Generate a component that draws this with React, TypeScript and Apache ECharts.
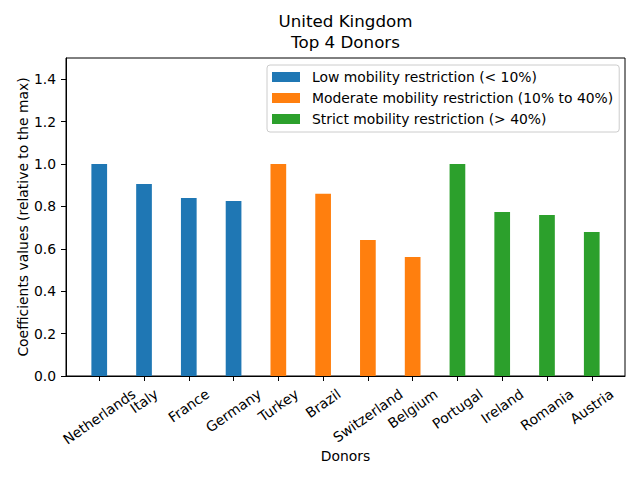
import React, { useEffect, useRef } from "react";
import * as echarts from "echarts";

const donors = [
  "Netherlands", "Italy", "France", "Germany",
  "Turkey", "Brazil", "Switzerland", "Belgium",
  "Portugal", "Ireland", "Romania", "Austria",
];
const lowValues = [1.0, 0.906, 0.84, 0.825];
const moderateValues = [1.0, 0.86, 0.642, 0.561];
const strictValues = [1.0, 0.774, 0.759, 0.679];
const seriesNames = [
  "Low mobility restriction (< 10%)",
  "Moderate mobility restriction (10% to 40%)",
  "Strict mobility restriction (> 40%)",
];
const colors = ["#1f77b4", "#ff7f0e", "#2ca02c"];
const yTicks = [0, 0.2, 0.4, 0.6, 0.8, 1.0, 1.2, 1.4];
const xTicks = donors.map((_, i) => i);
const X_MIN = -0.7425;
const X_MAX = 11.7425;

const FONT = "DejaVu Sans";
const FS = 13.9;

function measure(t: string): number {
  const ctx = document.createElement("canvas").getContext("2d");
  if (!ctx) return t.length * FS * 0.55;
  ctx.font = `${FS}px "${FONT}"`;
  return ctx.measureText(t).width;
}

export default function App() {
  const ref = useRef<HTMLDivElement>(null);
  useEffect(() => {
    if (!ref.current) return;
    const chart = echarts.init(ref.current, undefined, { renderer: "svg" });
    const ang = (35 * Math.PI) / 180;
    const s = Math.sin(ang);
    const c = Math.cos(ang);
    const rich: Record<string, any> = {};
    donors.forEach((d, i) => {
      const L = measure(d);
      rich["l" + i] = {
        fontSize: FS,
        fontFamily: FONT,
        color: "#000",
        padding: [L * s * c, L * s * s, 0, 0],
      };
    });
    const groups = [lowValues, moderateValues, strictValues];
    let offset = 0;
    const series = groups.map((vals, g) => {
      const start = offset;
      offset += vals.length;
      return {
        type: "bar",
        name: seriesNames[g],
        data: vals.map((v, k) => [start + k, v]),
        barWidth: 15.7,
        barGap: "-100%",
        itemStyle: { color: colors[g] },
      };
    });
    chart.setOption({
      animation: false,
      title: {
        text: "United Kingdom\nTop 4 Donors",
        left: 345.5,
        top: 10,
        padding: 0,
        textAlign: "center",
        textStyle: {
          fontSize: 16.7,
          fontWeight: "normal",
          fontFamily: FONT,
          color: "#000",
          lineHeight: 21,
        },
      },
      legend: {
        orient: "vertical",
        left: 267,
        top: 65,
        itemWidth: 28,
        itemHeight: 10,
        itemGap: 5,
        icon: "rect",
        padding: [4, 6, 5, 5],
        borderColor: "#cccccc",
        borderWidth: 1,
        borderRadius: 3,
        backgroundColor: "rgba(255,255,255,0.8)",
        selectedMode: false,
        textStyle: {
          fontSize: FS,
          fontFamily: FONT,
          color: "#000",
          lineHeight: 16,
          padding: [0, 0, 0, 7],
        },
        data: seriesNames,
      },
      grid: {
        left: 66,
        right: 15,
        top: 58,
        bottom: 104,
        show: true,
        borderColor: "#000",
        borderWidth: 1,
        backgroundColor: "transparent",
        containLabel: false,
        outerBoundsMode: "none",
      },
      xAxis: {
        type: "value",
        min: X_MIN,
        max: X_MAX,
        name: "Donors",
        nameLocation: "middle",
        nameGap: 73,
        nameMoveOverlap: false,
        nameTextStyle: { fontSize: FS, fontFamily: FONT, color: "#000" },
        splitLine: { show: false },
        axisLine: { show: true, onZero: false, lineStyle: { color: "#000", width: 1 } },
        axisTick: { show: true, length: 5, customValues: xTicks, lineStyle: { color: "#000" } },
        axisLabel: {
          customValues: [X_MIN, ...xTicks, X_MAX],
          showMinLabel: false,
          showMaxLabel: false,
          hideOverlap: false,
          rotate: 35,
          align: "center",
          verticalAlign: "middle",
          margin: 16.3,
          fontSize: FS,
          fontFamily: FONT,
          color: "#000",
          rich,
          formatter: (v: number) => {
            const i = Math.round(v);
            if (Math.abs(v - i) > 1e-6 || i < 0 || i >= donors.length) return " ";
            return `{l${i}|${donors[i]}}`;
          },
        },
      },
      yAxis: {
        type: "value",
        min: 0,
        max: 1.5,
        name: "Coefficients values (relative to the max)",
        nameLocation: "middle",
        nameGap: 36,
        nameMoveOverlap: false,
        nameTextStyle: { fontSize: FS, fontFamily: FONT, color: "#000" },
        splitLine: { show: false },
        axisLine: { show: true, onZero: false, lineStyle: { color: "#000", width: 1 } },
        axisTick: { show: true, length: 5, customValues: yTicks, lineStyle: { color: "#000" } },
        axisLabel: {
          customValues: yTicks,
          showMinLabel: true,
          margin: 10,
          fontSize: FS,
          fontFamily: FONT,
          color: "#000",
          formatter: (v: number) => v.toFixed(1),
        },
      },
      series,
    });
    return () => chart.dispose();
  }, []);
  return (
    <div
      ref={ref}
      style={{ position: "absolute", left: 0, top: 0, width: 640, height: 480, background: "#fff" }}
    />
  );
}
